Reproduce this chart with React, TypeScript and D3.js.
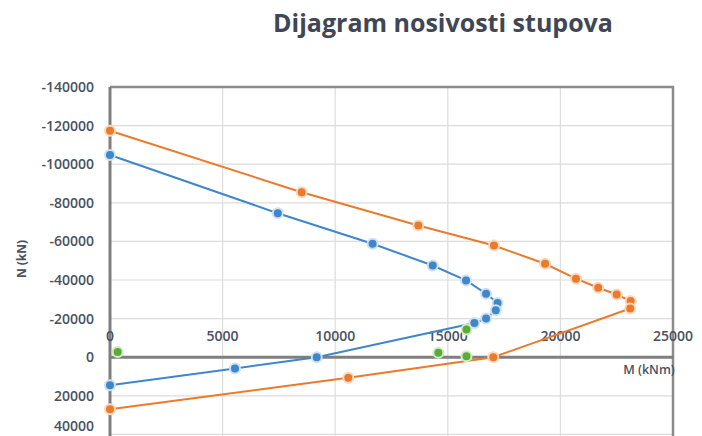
import { useEffect, useRef } from 'react';
import * as d3 from 'd3';

interface Point {
  m: number;
  n: number;
}

// Interaction diagram, series 1 (blue)
const blueSeries: Point[] = [
  { m: 0, n: -104800 },
  { m: 7450, n: -74600 },
  { m: 11660, n: -58800 },
  { m: 14330, n: -47500 },
  { m: 15810, n: -39800 },
  { m: 16700, n: -32900 },
  { m: 17210, n: -28100 },
  { m: 17130, n: -24300 },
  { m: 16700, n: -20000 },
  { m: 16180, n: -17700 },
  { m: 9180, n: 0 },
  { m: 5550, n: 5800 },
  { m: 0, n: 14500 },
];

// Interaction diagram, series 2 (orange)
const orangeSeries: Point[] = [
  { m: 0, n: -117300 },
  { m: 8510, n: -85500 },
  { m: 13690, n: -68200 },
  { m: 17050, n: -57900 },
  { m: 19320, n: -48400 },
  { m: 20690, n: -40700 },
  { m: 21680, n: -36000 },
  { m: 22500, n: -32500 },
  { m: 23120, n: -29100 },
  { m: 23100, n: -25200 },
  { m: 17020, n: 0 },
  { m: 10580, n: 10700 },
  { m: 0, n: 27000 },
];

// Load cases (green), markers only
const greenSeries: Point[] = [
  { m: 340, n: -2700 },
  { m: 14580, n: -2300 },
  { m: 15830, n: -500 },
  { m: 15830, n: -14300 },
];

const xTicks = [0, 5000, 10000, 15000, 20000, 25000];
const yTicks = [-140000, -120000, -100000, -80000, -60000, -40000, -20000, 0, 20000, 40000];

const title = 'Dijagram nosivosti stupova';
const xTitle = 'M (kNm)';
const yTitle = 'N (kN)';

export default function App() {
  const svgRef = useRef<SVGSVGElement>(null);
  const width = 702;
  const height = 436;

  useEffect(() => {
    document.body.style.margin = '0';
    if (!svgRef.current) return;

    const svg = d3.select(svgRef.current);
    svg.selectAll('*').remove();

    const left = 110;
    const right = 673;
    const top = 87;

    const xScale = d3.scaleLinear().domain([0, 25000]).range([left, right]);
    const yScale = d3.scaleLinear().domain([-140000, 60000]).range([top, 473]);

    const font = "'Open Sans', 'DejaVu Sans', sans-serif";
    const labelColor = '#4a5160';

    svg.append('rect').attr('width', width).attr('height', height).attr('fill', 'white');

    // Title
    svg.append('text')
      .attr('x', 443)
      .attr('y', 32)
      .attr('text-anchor', 'middle')
      .attr('font-family', font)
      .attr('font-weight', 700)
      .attr('font-size', '25px')
      .attr('fill', '#3f4656')
      .text(title);

    // Gridlines
    const grid = svg.append('g');
    grid.selectAll('line.h')
      .data(yTicks.filter((d) => d !== 0 && d !== -140000))
      .join('line')
      .attr('class', 'h')
      .attr('x1', left)
      .attr('x2', right)
      .attr('y1', (d) => yScale(d))
      .attr('y2', (d) => yScale(d))
      .attr('stroke', '#dcdcdc')
      .attr('stroke-width', 1.2);

    grid.selectAll('line.v')
      .data(xTicks.filter((d) => d !== 0 && d !== 25000))
      .join('line')
      .attr('class', 'v')
      .attr('x1', (d) => xScale(d))
      .attr('x2', (d) => xScale(d))
      .attr('y1', top)
      .attr('y2', height + 10)
      .attr('stroke', '#dcdcdc')
      .attr('stroke-width', 1.2);

    // Plot border (top, right)
    svg.append('path')
      .attr('d', `M${left},${top}H${right}V${height + 10}`)
      .attr('fill', 'none')
      .attr('stroke', '#8c8c8c')
      .attr('stroke-width', 2.5);

    // Axes lines
    svg.append('line')
      .attr('x1', left)
      .attr('x2', right)
      .attr('y1', yScale(0))
      .attr('y2', yScale(0))
      .attr('stroke', '#7f7f7f')
      .attr('stroke-width', 3);

    svg.append('line')
      .attr('x1', left)
      .attr('x2', left)
      .attr('y1', top)
      .attr('y2', height + 10)
      .attr('stroke', '#7f7f7f')
      .attr('stroke-width', 3);

    // Y tick labels (last one nudged up so it stays on the page)
    svg.append('g')
      .selectAll('text')
      .data(yTicks)
      .join('text')
      .attr('x', 94)
      .attr('y', (d) => Math.min(yScale(d), 426))
      .attr('dy', '0.35em')
      .attr('text-anchor', 'end')
      .attr('font-family', font)
      .attr('font-weight', 600)
      .attr('font-size', '14px')
      .attr('fill', labelColor)
      .text((d) => String(d));

    // X tick labels (sit above the axis line)
    svg.append('g')
      .selectAll('text')
      .data(xTicks)
      .join('text')
      .attr('x', (d) => xScale(d))
      .attr('y', yScale(0) - 21)
      .attr('dy', '0.35em')
      .attr('text-anchor', 'middle')
      .attr('font-family', font)
      .attr('font-weight', 600)
      .attr('font-size', '14px')
      .attr('fill', labelColor)
      .text((d) => String(d));

    // Axis titles
    svg.append('text')
      .attr('x', 649)
      .attr('y', 370)
      .attr('dy', '0.35em')
      .attr('text-anchor', 'middle')
      .attr('font-family', font)
      .attr('font-weight', 600)
      .attr('font-size', '12.5px')
      .attr('fill', labelColor)
      .text(xTitle);

    svg.append('text')
      .attr('transform', 'translate(22,259) rotate(-90)')
      .attr('dy', '0.35em')
      .attr('text-anchor', 'middle')
      .attr('font-family', font)
      .attr('font-weight', 700)
      .attr('font-size', '12px')
      .attr('fill', labelColor)
      .text(yTitle);

    const line = d3.line<Point>()
      .x((d) => xScale(d.m))
      .y((d) => yScale(d.n));

    const drawSeries = (data: Point[], color: string, halo: string, withLine: boolean) => {
      const g = svg.append('g');
      if (withLine) {
        g.append('path')
          .datum(data)
          .attr('d', line)
          .attr('fill', 'none')
          .attr('stroke', color)
          .attr('stroke-width', 2);
      }
      g.selectAll('circle')
        .data(data)
        .join('circle')
        .attr('cx', (d) => xScale(d.m))
        .attr('cy', (d) => yScale(d.n))
        .attr('r', 5)
        .attr('fill', color)
        .attr('stroke', halo)
        .attr('stroke-width', 2);
    };

    drawSeries(blueSeries, '#3f87cb', '#cfe0f1', true);
    drawSeries(orangeSeries, '#ec7a2b', '#f9d8c0', true);
    drawSeries(greenSeries, '#5cab38', '#d3ebc6', false);
  }, []);

  return <svg ref={svgRef} width={width} height={height} style={{ display: 'block' }} />;
}
